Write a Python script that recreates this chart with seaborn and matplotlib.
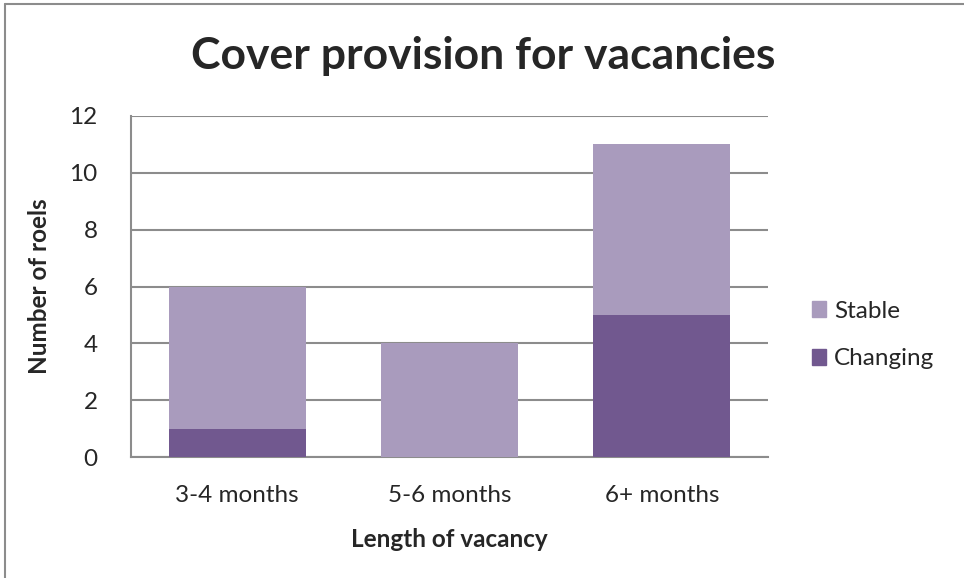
import numpy as np
import pandas as pd
import matplotlib.pyplot as plt
import seaborn as sns
from matplotlib.patches import Patch
from matplotlib.lines import Line2D

categories = ["3-4 months", "5-6 months", "6+ months"]
changing = [1, 0, 5]
stable = [5, 4, 6]

col_stable = "#A99BBD"
col_changing = "#71588F"
grid_col = "#8C8C8C"

df = pd.DataFrame({"length": categories, "Changing": changing, "Stable": stable})
df["total"] = df["Changing"] + df["Stable"]

sns.set_style("white")
plt.rcParams["font.family"] = ["Lato", "DejaVu Sans"]

fig = plt.figure(figsize=(9.64, 5.78), dpi=100)
ax = fig.add_axes([131 / 964, 1 - 457 / 578, (768 - 131) / 964, (457 - 116) / 578])

# stacked: stable drawn as total, changing drawn on top of it from zero
sns.barplot(data=df, x="length", y="total", color=col_stable, width=0.645,
            saturation=1, linewidth=0, ax=ax, zorder=3)
sns.barplot(data=df, x="length", y="Changing", color=col_changing, width=0.645,
            saturation=1, linewidth=0, ax=ax, zorder=3)

ax.set_ylim(0, 12)
ax.set_xlim(-0.5, 2.5)
ax.set_yticks(range(0, 13, 2))
ax.yaxis.grid(True, color=grid_col, linewidth=1.5, zorder=0)
ax.set_axisbelow(True)
for s in ["top", "right"]:
    ax.spines[s].set_visible(False)
for s in ["left", "bottom"]:
    ax.spines[s].set_color(grid_col)
    ax.spines[s].set_linewidth(1.5)
ax.tick_params(axis="both", length=0, labelsize=17.5, colors="#262626")
ax.tick_params(axis="x", pad=20)
ax.tick_params(axis="y", pad=24)

ax.set_xlabel("Length of vacancy", fontsize=17.5, fontweight="bold", color="#262626", labelpad=16)
ax.set_ylabel("Number of roels", fontsize=17.5, fontweight="bold", color="#262626", labelpad=13)

fig.suptitle("Cover provision for vacancies", x=483 / 964, y=1 - 56 / 578, va="center",
             fontsize=32, fontweight="bold", color="#262626")

handles = [Patch(color=col_stable, label="Stable"), Patch(color=col_changing, label="Changing")]
fig.legend(handles=handles, loc="center left", bbox_to_anchor=(790 / 964, 1 - 335 / 578),
           frameon=False, fontsize=17.5, handlelength=0.6, handleheight=0.6,
           handletextpad=0.3, labelspacing=1.1, labelcolor="#262626")

# outer chart border (cut off at right and bottom)
fig.add_artist(Line2D([5 / 964, 5 / 964], [0, 1 - 4 / 578], color=grid_col, linewidth=1.5))
fig.add_artist(Line2D([5 / 964, 1], [1 - 4 / 578, 1 - 4 / 578], color=grid_col, linewidth=1.5))

fig.savefig("out.png", dpi=100)
